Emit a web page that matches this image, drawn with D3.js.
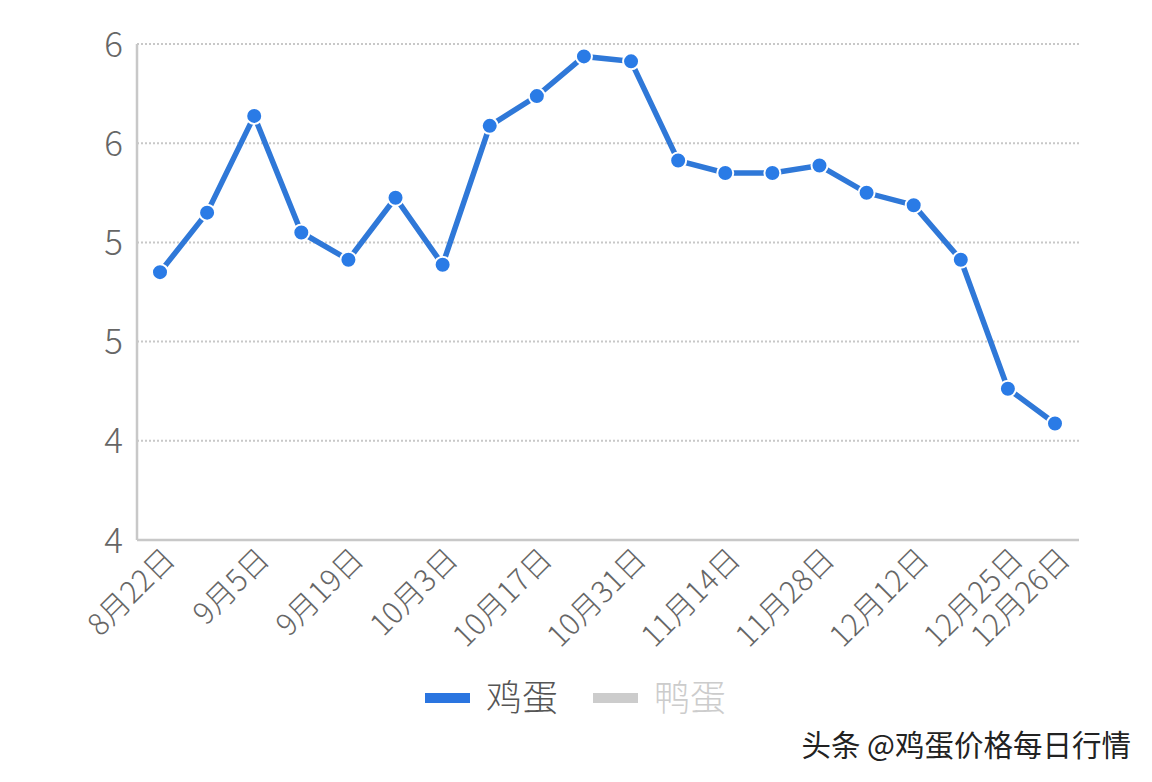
<!DOCTYPE html>
<html><head><meta charset="utf-8">
<script src="https://cdn.jsdelivr.net/npm/d3@7/dist/d3.min.js"></script>
<style>body{margin:0;background:#fff;}svg{display:block;font-family:"Noto Sans CJK SC","Noto Sans",sans-serif;}</style>
</head><body>
<svg id="c" width="1152" height="782"></svg>
<script>
const categories = ["8月22日","8月29日","9月5日","9月12日","9月19日","9月26日","10月3日","10月10日","10月17日","10月24日","10月31日","11月7日","11月14日","11月21日","11月28日","12月5日","12月12日","12月19日","12月25日","12月26日"];
const eggValues = [5.08,5.32,5.71,5.24,5.13,5.38,5.11,5.67,5.79,5.95,5.93,5.53,5.48,5.48,5.51,5.40,5.35,5.13,4.61,4.47];
const yTicks = [4.0,4.4,4.8,5.2,5.6,6.0];
const yTickLabels = ["4","4","5","5","6","6"];
const shownLabels = ["8月22日","9月5日","9月19日","10月3日","10月17日","10月31日","11月14日","11月28日","12月12日","12月25日","12月26日"];
const legendItems = ["鸡蛋","鸭蛋"];
const watermark = "头条 @鸡蛋价格每日行情";

const svg = d3.select("#c");
const L=137, R=1079, T=44, B=540;
const x = d3.scalePoint().domain(categories).range([160,1055]);
const y = d3.scaleLinear().domain([4.0,6.0]).range([B,T]);

// grid
svg.append("g").selectAll("line").data(yTicks.slice(1)).join("line")
  .attr("x1",L).attr("x2",R).attr("y1",d=>y(d)).attr("y2",d=>y(d))
  .attr("stroke","#c8c8c8").attr("stroke-width",2).attr("stroke-dasharray","2,2");

// axes lines
svg.append("line").attr("x1",L).attr("x2",L).attr("y1",T).attr("y2",B).attr("stroke","#c8c8c8").attr("stroke-width",2.5);
svg.append("line").attr("x1",L).attr("x2",R).attr("y1",B).attr("y2",B).attr("stroke","#c8c8c8").attr("stroke-width",2.5);

// y labels
svg.append("g").selectAll("text").data(yTicks).join("text")
  .attr("x",123).attr("y",d=>y(d)).attr("dy","0.36em").attr("text-anchor","end")
  .attr("font-size",35).attr("font-weight",300).attr("fill","#666").text((d,i)=>yTickLabels[i]);

// x labels
svg.append("g").selectAll("text").data(shownLabels).join("text")
  .attr("transform",d=>`translate(${x(d)+17},${561}) rotate(-45)`)
  .attr("text-anchor","end").attr("font-size",30).attr("font-weight",300).attr("fill","#666").text(d=>d);

// line
svg.append("path").datum(eggValues)
  .attr("d",d3.line().x((d,i)=>x(categories[i])).y(d=>y(d)))
  .attr("fill","none").attr("stroke","#2f78d8").attr("stroke-width",5.5);
svg.append("g").selectAll("circle").data(eggValues).join("circle")
  .attr("cx",(d,i)=>x(categories[i])).attr("cy",d=>y(d)).attr("r",8)
  .attr("fill","#2a7be6").attr("stroke","#fff").attr("stroke-width",2);

// legend
const lg = svg.append("g");
lg.append("rect").attr("x",425).attr("y",693).attr("width",45).attr("height",10).attr("fill","#2a75e0");
lg.append("text").attr("x",486).attr("y",698).attr("dy","0.36em").attr("font-size",36).attr("font-weight",300).attr("fill","#555").text(legendItems[0]);
lg.append("rect").attr("x",593).attr("y",693).attr("width",45).attr("height",10).attr("fill","#cccccc");
lg.append("text").attr("x",654).attr("y",698).attr("dy","0.36em").attr("font-size",36).attr("font-weight",300).attr("fill","#ccc").text(legendItems[1]);

// watermark
svg.append("text").attr("x",1131).attr("y",745).attr("dy","0.36em").attr("text-anchor","end")
  .attr("font-size",29.5).attr("fill","#222").attr("stroke","#fff").attr("stroke-width",0.5)
  .style("paint-order","stroke").text(watermark);
</script>
</body></html>
